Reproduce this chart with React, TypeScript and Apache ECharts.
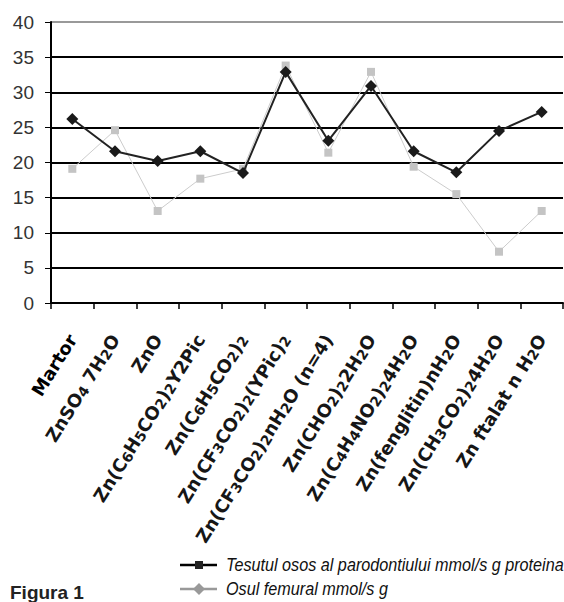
import React, { useEffect, useRef } from "react";
import * as echarts from "echarts";

const categories = [
  "Martor",
  "ZnSO₄ 7H₂O",
  "ZnO",
  "Zn(C₆H₅CO₂)₂Y2Pic",
  "Zn(C₆H₅CO₂)₂",
  "Zn(CF₃CO₂)₂(YPic)₂",
  "Zn(CF₃CO₂)₂nH₂O (n=4)",
  "Zn(CHO₂)₂2H₂O",
  "Zn(C₄H₄NO₂)₂4H₂O",
  "Zn(fenglitin)nH₂O",
  "Zn(CH₃CO₂)₂4H₂O",
  "Zn ftalat n H₂O",
];

const seriesNames = [
  "Tesutul osos al parodontiului mmol/s g proteina",
  "Osul femural mmol/s g",
];

const tesutul = [26.2, 21.6, 20.2, 21.6, 18.5, 32.9, 23.1, 30.9, 21.6, 18.6, 24.5, 27.2];
const osul = [19.1, 24.6, 13.1, 17.7, 19.1, 33.8, 21.4, 32.9, 19.4, 15.5, 7.3, 13.1];

const yTicks = { min: 0, max: 40, interval: 5 };
const figureTitle = "Figura 1";

const SUBS = "₀₁₂₃₄₅₆₇₈₉";

function toRich(label: string): string {
  if (label === "Martor") return "{m|" + label + "}";
  let out = "";
  let buf = "";
  let mode = "";
  const flush = () => {
    if (buf) out += "{" + mode + "|" + buf + "}";
    buf = "";
  };
  for (const ch of label) {
    const idx = SUBS.indexOf(ch);
    const m = idx >= 0 ? "s" : "n";
    const c = idx >= 0 ? String(idx) : ch;
    if (m !== mode) {
      flush();
      mode = m;
    }
    buf += c;
  }
  flush();
  return out;
}

export default function App() {
  const ref = useRef<HTMLDivElement>(null);
  useEffect(() => {
    document.body.style.margin = "0";
    const chart = echarts.init(ref.current!, null, { renderer: "svg" });
    const sans = "'Liberation Sans', Arial, sans-serif";
    const wide = "'DejaVu Sans', 'Liberation Sans', sans-serif";
    chart.setOption({
      animation: false,
      backgroundColor: "#ffffff",
      grid: { left: 51, right: 1, top: 22, bottom: 299, containLabel: false },
      xAxis: {
        type: "category",
        data: categories,
        boundaryGap: true,
        axisLine: { lineStyle: { color: "#000", width: 2 } },
        axisTick: { show: true, length: 6, interval: 0, lineStyle: { color: "#000", width: 1.5 } },
        axisLabel: {
          interval: 0,
          rotate: 58,
          margin: 33,
          color: "#111",
          formatter: (v: string) => toRich(v),
          rich: {
            m: { fontSize: 18, fontWeight: "bold", color: "#000", fontFamily: wide, height: 20, verticalAlign: "middle" },
            n: { fontSize: 18, fontWeight: 600, color: "#161616", fontFamily: wide, height: 20, verticalAlign: "middle" },
            s: { fontSize: 14, fontWeight: 600, color: "#161616", fontFamily: wide, height: 15, verticalAlign: "bottom" },
          },
        },
      },
      yAxis: {
        type: "value",
        min: yTicks.min,
        max: yTicks.max,
        interval: yTicks.interval,
        axisLine: { show: true, lineStyle: { color: "#000", width: 2 } },
        axisTick: { show: true, length: 6, lineStyle: { color: "#000", width: 1 } },
        axisLabel: {
          color: "#333",
          fontSize: 19,
          margin: 17,
          fontFamily: sans,
        },
        splitLine: {
          show: true,
          lineStyle: {
            width: 2,
            color: ["#000", "#000", "#000", "#000", "#000", "#000", "#000", "#000", "#999"],
          },
        },
      },
      series: [
        {
          name: seriesNames[1],
          type: "line",
          data: osul,
          symbol: "rect",
          symbolSize: 8,
          lineStyle: { color: "#cccccc", width: 1 },
          itemStyle: { color: "#c4c4c4" },
          z: 2,
        },
        {
          name: seriesNames[0],
          type: "line",
          data: tesutul,
          symbol: "diamond",
          symbolSize: 12,
          lineStyle: { color: "#222", width: 2 },
          itemStyle: { color: "#1a1a1a" },
          z: 3,
        },
      ],
      graphic: [
        { type: "line", shape: { x1: 180, y1: 565, x2: 217, y2: 565 }, style: { stroke: "#000", lineWidth: 2.5 } },
        { type: "rect", shape: { x: 195, y: 561, width: 8, height: 8 }, style: { fill: "#222" } },
        {
          type: "text",
          x: 226,
          y: 565,
          scaleX: 0.9,
          style: {
            text: seriesNames[0],
            fill: "#111",
            fontSize: 18,
            fontStyle: "italic",
            fontFamily: sans,
            verticalAlign: "middle",
          },
        },
        { type: "line", shape: { x1: 180, y1: 589, x2: 217, y2: 589 }, style: { stroke: "#999", lineWidth: 2.5 } },
        {
          type: "polygon",
          shape: { points: [[199, 583], [205, 589], [199, 595], [193, 589]] },
          style: { fill: "#999" },
        },
        {
          type: "text",
          x: 226,
          y: 589,
          scaleX: 0.9,
          style: {
            text: seriesNames[1],
            fill: "#111",
            fontSize: 18,
            fontStyle: "italic",
            fontFamily: sans,
            verticalAlign: "middle",
          },
        },
        {
          type: "text",
          x: 10,
          y: 602,
          style: {
            text: figureTitle,
            fill: "#222",
            fontSize: 19,
            fontWeight: "bold",
            fontFamily: sans,
            verticalAlign: "bottom",
          },
        },
      ],
    });
    return () => chart.dispose();
  }, []);
  return <div ref={ref} style={{ position: "fixed", left: 0, top: 0, width: 564, height: 602 }} />;
}
